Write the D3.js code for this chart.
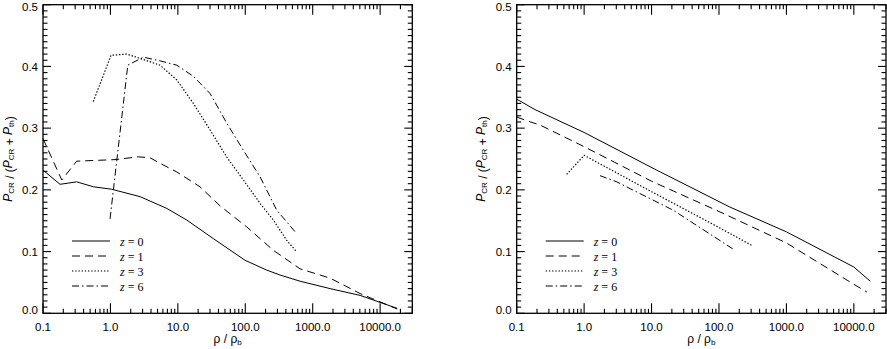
<!DOCTYPE html>
<html><head><meta charset="utf-8">
<script src="https://cdn.jsdelivr.net/npm/d3@7"></script>
<style>body{margin:0;background:#fff}svg{display:block}</style>
</head><body><svg id="c" width="887" height="349"></svg>
<script>
// ---- data ----
const xTickValues = [0.1, 1, 10, 100, 1000, 10000];
const xTickLabels = ["0.1", "1.0", "10.0", "100.0", "1000.0", "10000.0"];
const yTickValues = [0.0, 0.1, 0.2, 0.3, 0.4, 0.5];
const yTickLabels = ["0.0", "0.1", "0.2", "0.3", "0.4", "0.5"];
const seriesZ = ["0", "1", "3", "6"];

// left panel
const leftRhoZ0 = [0.1, 0.179, 0.316, 0.557, 1.04, 2.75, 6.84, 13.6, 33.6, 99, 208, 328, 650, 1810, 5050, 17900];
const leftValZ0 = [0.232, 0.209, 0.213, 0.205, 0.201, 0.189, 0.170, 0.151, 0.121, 0.086, 0.070, 0.062, 0.052, 0.040, 0.029, 0.008];
const leftRhoZ1 = [0.1, 0.19, 0.316, 1.17, 2.59, 3.87, 5.45, 9.64, 21.3, 42.3, 105, 261, 650, 1810, 5050, 17900];
const leftValZ1 = [0.283, 0.216, 0.2465, 0.249, 0.2535, 0.252, 0.243, 0.229, 0.205, 0.174, 0.140, 0.102, 0.072, 0.057, 0.032, 0.007];
const leftRhoZ3 = [0.557, 1.02, 1.75, 2.75, 5.45, 9.64, 17.0, 30.1, 53.2, 93.8, 166, 261, 413, 581];
const leftValZ3 = [0.343, 0.418, 0.420, 0.413, 0.402, 0.378, 0.340, 0.297, 0.253, 0.216, 0.178, 0.151, 0.118, 0.0994];
const leftRhoZ6 = [0.987, 1.81, 3.08, 5.45, 9.64, 17.0, 30.1, 53.2, 93.8, 166, 293, 581];
const leftValZ6 = [0.153, 0.402, 0.415, 0.409, 0.402, 0.384, 0.356, 0.308, 0.264, 0.221, 0.167, 0.129];

// right panel
const rightRhoZ0 = [0.1, 0.187, 1, 11.9, 146, 1000, 10000, 17500];
const rightValZ0 = [0.347, 0.330, 0.293, 0.232, 0.172, 0.132, 0.075, 0.052];
const rightRhoZ1 = [0.1, 0.141, 0.222, 1, 10, 100, 1000, 10000, 15600];
const rightValZ1 = [0.318, 0.312, 0.305, 0.270, 0.214, 0.165, 0.114, 0.047, 0.0345];
const rightRhoZ3 = [0.55, 1.0, 10, 100, 307];
const rightValZ3 = [0.225, 0.256, 0.197, 0.139, 0.110];
const rightRhoZ6 = [1.72, 3.05, 4.80, 21.0, 173];
const rightValZ6 = [0.223, 0.213, 0.202, 0.167, 0.102];

// ---- drawing ----
const svg = d3.select("#c");
const dashes = [null, "8,5", "1.4,1.8", "7,3,1.5,3"];
const widths = [1, 1, 1.2, 1];
const sans = "'Liberation Sans', Arial, Helvetica, sans-serif";
const serif = "'Liberation Serif', 'Times New Roman', serif";

function zip(r, v) { return r.map((d, i) => [d, v[i]]); }

const panels = [
  { x0: 43, series: [zip(leftRhoZ0, leftValZ0), zip(leftRhoZ1, leftValZ1), zip(leftRhoZ3, leftValZ3), zip(leftRhoZ6, leftValZ6)] },
  { x0: 516.7, series: [zip(rightRhoZ0, rightValZ0), zip(rightRhoZ1, rightValZ1), zip(rightRhoZ3, rightValZ3), zip(rightRhoZ6, rightValZ6)] }
];
const W = 369.3, yTop = 4.7, yBot = 313.3;

panels.forEach(p => {
  const x = d3.scaleLog().domain([0.1, 30000]).range([p.x0, p.x0 + W]);
  const y = d3.scaleLinear().domain([0, 0.5]).range([yBot, yTop]);
  const g = svg.append("g");

  // frame
  g.append("rect").attr("x", p.x0).attr("y", yTop).attr("width", W).attr("height", yBot - yTop)
    .attr("fill", "none").attr("stroke", "#000").attr("stroke-width", 1.3);

  // x ticks
  const minorX = [];
  xTickValues.forEach(d => { for (let k = 2; k <= 9; k++) if (k * d <= 30000) minorX.push(k * d); });
  const tk = g.append("g").attr("stroke", "#000").attr("stroke-width", 1.1);
  xTickValues.forEach(v => {
    tk.append("line").attr("x1", x(v)).attr("x2", x(v)).attr("y1", yBot).attr("y2", yBot - 10);
    tk.append("line").attr("x1", x(v)).attr("x2", x(v)).attr("y1", yTop).attr("y2", yTop + 10);
  });
  minorX.forEach(v => {
    tk.append("line").attr("x1", x(v)).attr("x2", x(v)).attr("y1", yBot).attr("y2", yBot - 4.5);
    tk.append("line").attr("x1", x(v)).attr("x2", x(v)).attr("y1", yTop).attr("y2", yTop + 4.5);
  });
  // y ticks
  const minorY = d3.range(0, 51).map(i => i / 100).filter(v => Math.round(v * 100) % 10 !== 0);
  yTickValues.forEach(v => {
    tk.append("line").attr("x1", p.x0).attr("x2", p.x0 + 8).attr("y1", y(v)).attr("y2", y(v));
    tk.append("line").attr("x1", p.x0 + W).attr("x2", p.x0 + W - 8).attr("y1", y(v)).attr("y2", y(v));
  });
  minorY.forEach(v => {
    tk.append("line").attr("x1", p.x0).attr("x2", p.x0 + 4.5).attr("y1", y(v)).attr("y2", y(v));
    tk.append("line").attr("x1", p.x0 + W).attr("x2", p.x0 + W - 4.5).attr("y1", y(v)).attr("y2", y(v));
  });

  // tick labels
  xTickValues.forEach((v, i) => {
    g.append("text").attr("x", x(v)).attr("y", 331).attr("text-anchor", "middle")
      .attr("font-family", sans).attr("font-size", 11.5).text(xTickLabels[i]);
  });
  const last = yTickValues.length - 1;
  yTickValues.forEach((v, i) => {
    let yy = y(v) + 4.1;
    if (i === 0) yy -= 3;
    if (i === last) yy = Math.max(yy, 10.6);
    g.append("text").attr("x", p.x0 - 5).attr("y", yy).attr("text-anchor", "end")
      .attr("font-family", sans).attr("font-size", 11.5).text(yTickLabels[i]);
  });

  // x title
  const xt = g.append("text").attr("x", p.x0 + W / 2).attr("y", 343).attr("text-anchor", "middle")
    .attr("font-family", sans).attr("font-size", 12);
  xt.append("tspan").text("ρ / ρ");
  xt.append("tspan").attr("font-size", 8).attr("dy", 2).text("b");

  // y title
  const yt = g.append("text").attr("transform", `translate(${p.x0 - 29.5},${(yTop + yBot) / 2}) rotate(-90)`)
    .attr("text-anchor", "middle").attr("font-family", sans).attr("font-size", 12);
  const P = () => yt.append("tspan").attr("font-style", "italic").attr("dy", -2).text("P");
  const sub = t => yt.append("tspan").attr("font-size", 8).attr("dy", 2).text(t);
  P(); sub("CR");
  yt.append("tspan").text(" / (");
  P(); sub("CR");
  yt.append("tspan").text(" + ");
  P(); sub("th");
  yt.append("tspan").text(")");

  // curves
  const line = d3.line().x(d => x(d[0])).y(d => y(d[1]));
  p.series.forEach((s, i) => {
    g.append("path").datum(s).attr("d", line).attr("fill", "none").attr("stroke", "#000")
      .attr("stroke-width", widths[i]).attr("stroke-dasharray", dashes[i]);
  });

  // legend
  seriesZ.forEach((z, i) => {
    const ly = 241 + i * 15;
    g.append("line").attr("x1", p.x0 + 29).attr("x2", p.x0 + 67).attr("y1", ly).attr("y2", ly)
      .attr("stroke", "#000").attr("stroke-width", widths[i]).attr("stroke-dasharray", dashes[i]);
    const t = g.append("text").attr("x", p.x0 + 77).attr("y", ly + 4.5)
      .attr("font-family", serif).attr("font-size", 12);
    t.append("tspan").attr("font-style", "italic").text("z");
    t.append("tspan").text(" = " + z);
  });
});
</script></body></html>
